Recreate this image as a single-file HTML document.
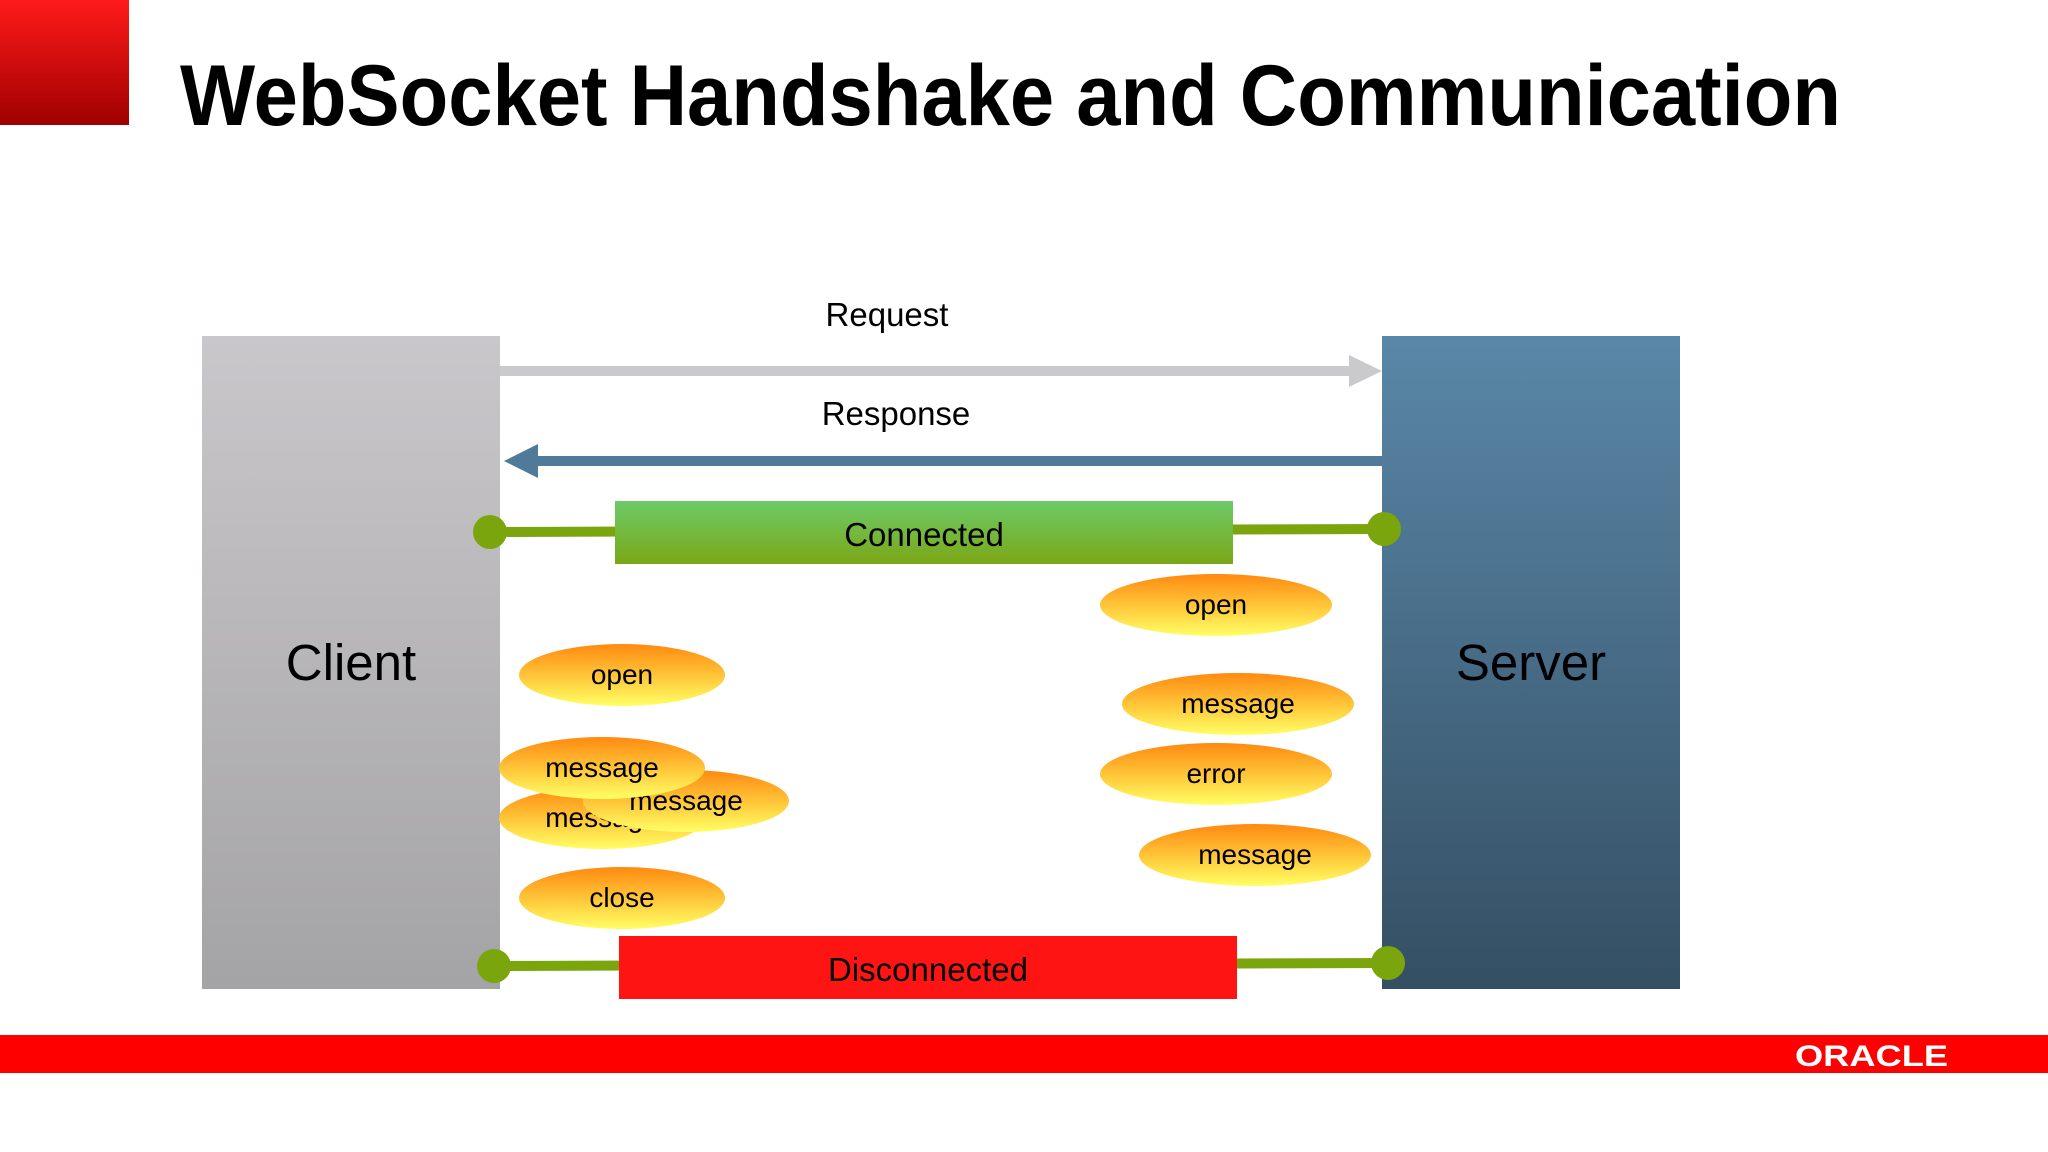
<!DOCTYPE html>
<html><head><meta charset="utf-8"><style>html,body{margin:0;padding:0;background:#fff}svg{display:block}</style></head>
<body>
<svg width="2048" height="1152" viewBox="0 0 2048 1152" xmlns="http://www.w3.org/2000/svg" font-family="Liberation Sans, Arial, sans-serif">
<defs>
<linearGradient id="rs" x1="0" y1="0" x2="0" y2="1"><stop offset="0" stop-color="#ff1a1a"/><stop offset="1" stop-color="#a00000"/></linearGradient>
<linearGradient id="cl" x1="0" y1="0" x2="0" y2="1"><stop offset="0" stop-color="#c9c7ca"/><stop offset="1" stop-color="#a4a3a5"/></linearGradient>
<linearGradient id="sv" x1="0" y1="0" x2="0" y2="1"><stop offset="0" stop-color="#5a87a8"/><stop offset="1" stop-color="#344f63"/></linearGradient>
<linearGradient id="cn" x1="0" y1="0" x2="0" y2="1"><stop offset="0" stop-color="#6cca68"/><stop offset="1" stop-color="#7ba716"/></linearGradient>
<linearGradient id="el" x1="0" y1="0" x2="0" y2="1"><stop offset="0" stop-color="#ff8a10"/><stop offset="0.6" stop-color="#ffd040"/><stop offset="1" stop-color="#ffff66"/></linearGradient>
</defs>
<rect x="0" y="0" width="129" height="125" fill="url(#rs)"/>
<text x="180" y="125" font-size="86" font-weight="bold" fill="#000" textLength="1661" lengthAdjust="spacingAndGlyphs">WebSocket Handshake and Communication</text>

<rect x="202" y="336" width="298" height="653" fill="url(#cl)"/>
<rect x="1382" y="336" width="298" height="653" fill="url(#sv)"/>
<text x="351" y="680" font-size="51" text-anchor="middle" fill="#000">Client</text>
<text x="1531" y="680" font-size="51" text-anchor="middle" fill="#000">Server</text>

<text x="887" y="326" font-size="33" text-anchor="middle">Request</text>
<rect x="500" y="366" width="852" height="10" fill="#cacacc"/>
<polygon points="1349,355 1382,371 1349,387" fill="#cacacc"/>
<text x="896" y="425" font-size="33" text-anchor="middle">Response</text>
<rect x="534" y="456" width="848" height="10" fill="#4f7a99"/>
<polygon points="538,444 504,461 538,478" fill="#4f7a99"/>

<line x1="490" y1="532" x2="1384" y2="529" stroke="#7aa50c" stroke-width="10"/>
<circle cx="490" cy="532" r="17" fill="#7aa50c"/>
<circle cx="1384" cy="529" r="17" fill="#7aa50c"/>
<rect x="615" y="501" width="618" height="63" fill="url(#cn)"/>
<text x="924" y="546" font-size="33" text-anchor="middle">Connected</text>

<line x1="494" y1="966" x2="1388" y2="963" stroke="#7aa50c" stroke-width="10"/>
<circle cx="494" cy="966" r="17" fill="#7aa50c"/>
<circle cx="1388" cy="963" r="17" fill="#7aa50c"/>
<rect x="619" y="936" width="618" height="63" fill="#ff1414"/>
<text x="928" y="981" font-size="33" text-anchor="middle">Disconnected</text>

<g font-size="28" text-anchor="middle">
<ellipse cx="1216" cy="605" rx="116" ry="31" fill="url(#el)"/><text x="1216" y="614">open</text>
<ellipse cx="622" cy="675" rx="103" ry="31" fill="url(#el)"/><text x="622" y="684">open</text>
<ellipse cx="1238" cy="704" rx="116" ry="31" fill="url(#el)"/><text x="1238" y="713">message</text>
<ellipse cx="1216" cy="774" rx="116" ry="31" fill="url(#el)"/><text x="1216" y="783">error</text>
<ellipse cx="1255" cy="855" rx="116" ry="31" fill="url(#el)"/><text x="1255" y="864">message</text>
<ellipse cx="602" cy="818" rx="103" ry="31" fill="url(#el)"/><text x="602" y="827">message</text>
<ellipse cx="686" cy="801" rx="103" ry="31" fill="url(#el)"/><text x="686" y="810">message</text>
<ellipse cx="602" cy="768" rx="103" ry="31" fill="url(#el)"/><text x="602" y="777">message</text>
<ellipse cx="622" cy="898" rx="103" ry="31" fill="url(#el)"/><text x="622" y="907">close</text>
</g>

<rect x="0" y="1035" width="2048" height="38" fill="#ff0000"/>
<text x="1795" y="1066" font-size="30" font-weight="bold" fill="#fff" textLength="153" lengthAdjust="spacingAndGlyphs">ORACLE</text>
</svg>
</body></html>
